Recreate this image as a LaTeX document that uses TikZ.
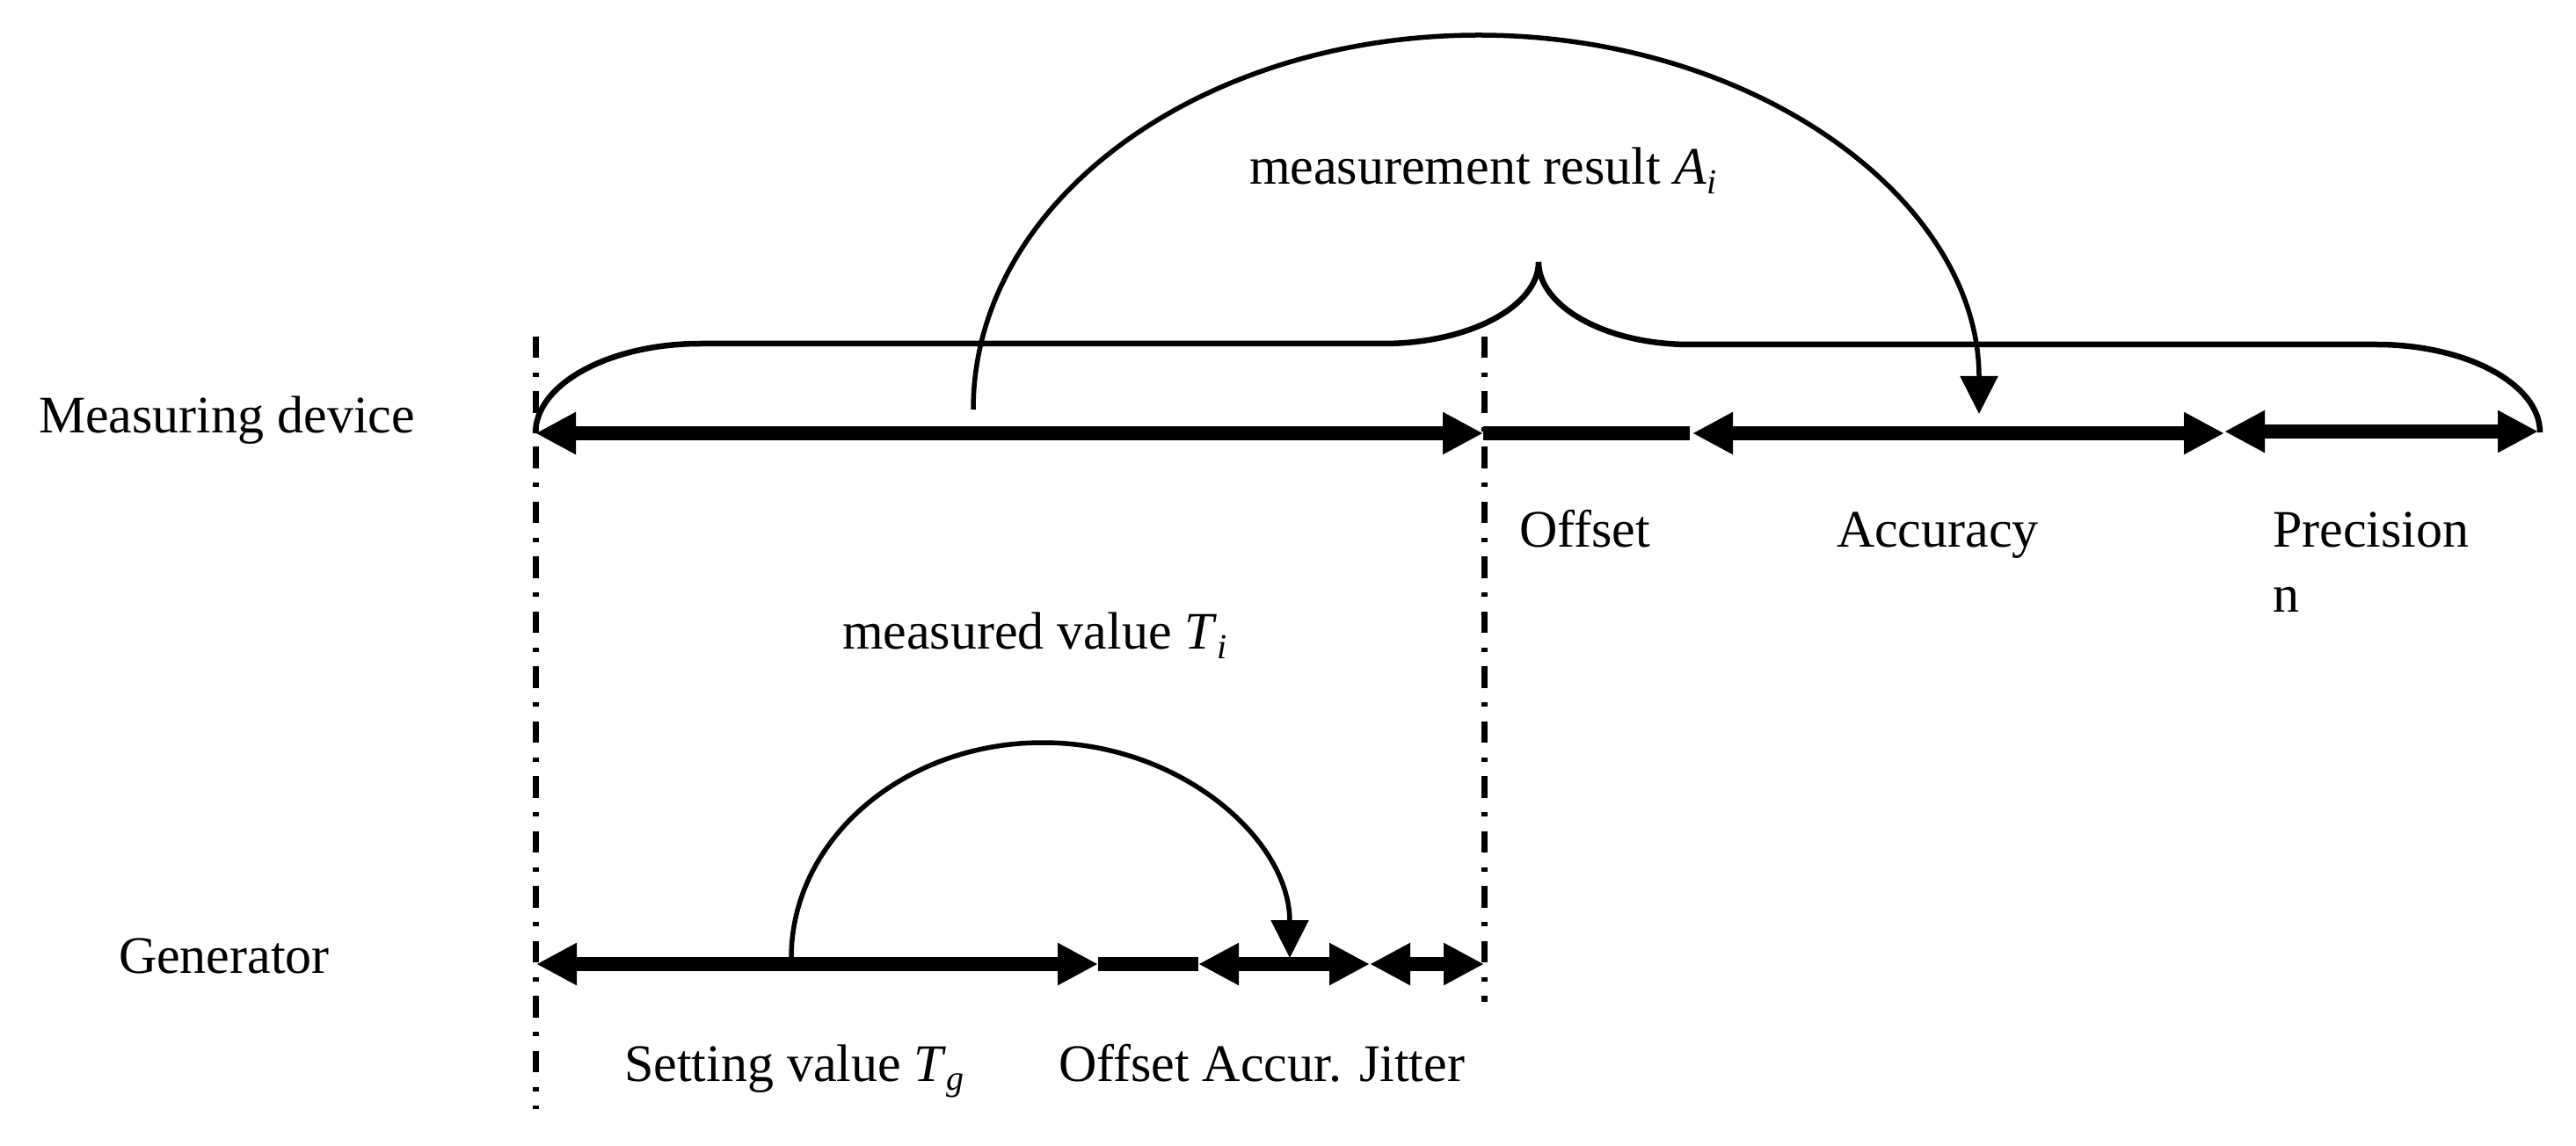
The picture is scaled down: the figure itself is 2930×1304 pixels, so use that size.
\documentclass[tikz,border=0pt]{standalone}
\usepackage{fontspec}
\setmainfont{Liberation Serif}
\usetikzlibrary{arrows.meta}
\newcommand{\isub}[2]{\textit{#1}\raisebox{-0.17em}{\fontsize{8}{8}\selectfont\textit{#2}}}
\begin{document}
\begin{tikzpicture}[x=0.2pt,y=-0.2pt,
  bigtip/.tip={Triangle[length=9.2pt,width=9pt]},
  arctip/.tip={Triangle[length=8.6pt,width=8.4pt]},
  shaft/.style={line width=3.2pt},
  guide/.style={line width=1.4pt,dash pattern=on 4.9pt off 3.3pt on 1pt off 3.3pt},
  bracestyle/.style={line width=1.3pt},
  arcstyle/.style={line width=1.1pt},
  lbl/.style={inner sep=0pt,font=\fontsize{12}{14.8}\selectfont}]
\useasboundingbox (0,0) rectangle (2930,1304);
% guide lines
\coordinate (gl0) at (609,383); \coordinate (gl1) at (609,1262);
\coordinate (gr0) at (1688,383); \coordinate (gr1) at (1688,1140);
\draw[guide] (gl0) -- (gl1);
\draw[guide] (gr0) -- (gr1);
% measuring device line
\coordinate (m0) at (609,493);
\coordinate (m1) at (1687,493);
\coordinate (m2) at (1922,493);
\coordinate (m3) at (1925,493);
\coordinate (m4) at (2530,493);
\coordinate (m5) at (2530,491);
\coordinate (m6) at (2887,491);
\draw[shaft,{bigtip}-{bigtip}] (m0) -- (m1);
\draw[shaft] (m1) -- (m2);
\draw[shaft,{bigtip}-{bigtip}] (m3) -- (m4);
\draw[shaft,{bigtip}-{bigtip}] (m5) -- (m6);
% generator line
\coordinate (g0) at (610,1097);
\coordinate (g1) at (1249,1097);
\coordinate (g2) at (1363,1097);
\coordinate (g3) at (1558,1097);
\coordinate (g4) at (1688,1097);
\draw[shaft,{bigtip}-{bigtip}] (g0) -- (g1);
\draw[shaft] (g1) -- (g2);
\draw[shaft,{bigtip}-{bigtip}] (g2) -- (g3);
\draw[shaft,{bigtip}-{bigtip}] (g3) -- (g4);
% brace
\coordinate (bl) at (609,493);
\coordinate (bt) at (1750,298);
\coordinate (br) at (2889,492);
\draw[bracestyle] (bl) .. controls (609,437) and (693,391) .. (797,391)
  -- (1573,391) .. controls (1670,391) and (1750,349) .. (bt)
  .. controls (1750,349) and (1827,392) .. (1922,392)
  -- (2703,392) .. controls (2805,392) and (2889,437) .. (br);
% big arc
\coordinate (a0) at (1107,466);
\coordinate (atop) at (1682,40);
\coordinate (a1) at (2251,471);
\draw[arcstyle,-{arctip}] (a0) .. controls (1107,228) and (1366,40) .. (atop)
  .. controls (1997,40) and (2251,228) .. (a1);
% small arc
\coordinate (s0) at (900,1090);
\coordinate (stop) at (1186,845);
\coordinate (s1) at (1467,1090);
\draw[arcstyle,-{arctip}] (s0) .. controls (900,955) and (1028,845) .. (stop)
  .. controls (1342,845) and (1467,955) .. (s1);
% labels
\node[lbl,anchor=base west] (tmd) at (43,493) {Measuring device};
\node[lbl,anchor=base west] (tmr) at (1420,210) {measurement result \isub{A}{i}};
\node[lbl,anchor=base west] (toff) at (1727,623) {Offset};
\node[lbl,anchor=base west] (tacc) at (2088,623) {Accuracy};
\node[lbl,anchor=north west,align=left] (tpre) at (2584,582) {Precision\\n};
\node[lbl,anchor=base west] (tmv) at (957,739) {measured value \isub{T}{i}};
\node[lbl,anchor=base west] (tgen) at (134,1107) {Generator};
\node[lbl,anchor=base west] (tsv) at (709,1230) {Setting value \isub{T}{g}};
\node[lbl,anchor=base west] (toaj) at (1203,1230) {Offset Accur. Jitter};
\end{tikzpicture}
\end{document}
